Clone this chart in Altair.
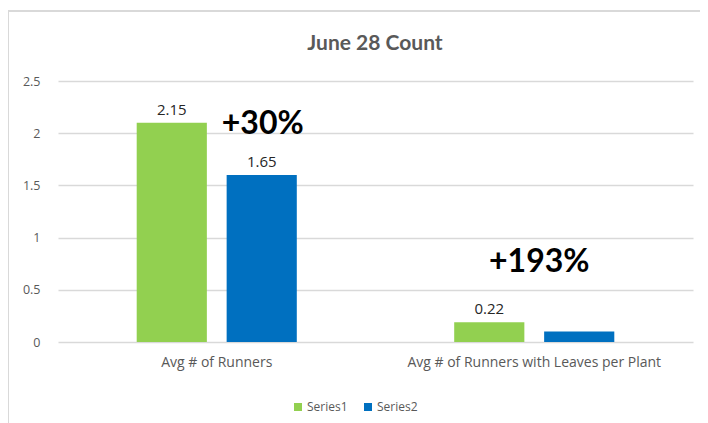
import altair as alt
import pandas as pd

categories = ["Avg # of Runners", "Avg # of Runners with Leaves per Plant"]
series = ["Series1", "Series2"]
series1_values = [2.1, 0.19]
series2_values = [1.6, 0.1]
series1_labels = ["2.15", "0.22"]
series2_labels = ["1.65", ""]
ann_texts = ["+30%", "+193%"]
ann_y = [2.09, 0.77]
colors = ["#92D050", "#0070C0"]
y_ticks = [0, 0.5, 1, 1.5, 2, 2.5]
title_text = "June 28 Count"

rows = []
for i, c in enumerate(categories):
    rows.append({"cat": c, "series": "Series1", "value": series1_values[i], "label": series1_labels[i]})
    rows.append({"cat": c, "series": "Series2", "value": series2_values[i], "label": series2_labels[i]})
df = pd.DataFrame(rows)

ann = pd.DataFrame({"cat": categories, "value": ann_y, "text": ann_texts})

FONT = "Lato"
FONT2 = "Open Sans"
GREY = "#595959"

x_enc = alt.X("cat:N", sort=categories,
              scale=alt.Scale(paddingInner=0, paddingOuter=0),
              axis=alt.Axis(labelAngle=0, labelFontSize=14, labelColor=GREY, labelFont=FONT2,
                            labelPadding=13, ticks=False, domain=False, grid=False, labelLimit=400),
              title=None)
xo_enc = alt.XOffset("series:N", sort=series,
                     scale=alt.Scale(paddingInner=0.22, paddingOuter=0.875))
y_scale = alt.Scale(domain=[0, 2.5], nice=False)

bars = alt.Chart(df).mark_bar().encode(
    x=x_enc,
    xOffset=xo_enc,
    y=alt.Y("value:Q", scale=y_scale,
            axis=alt.Axis(values=y_ticks, format="~g", labelFontSize=12.5, labelColor=GREY,
                          labelFont=FONT2, labelPadding=18, ticks=False, domain=False,
                          gridColor="#D9D9D9", gridWidth=1.3),
            title=None),
    color=alt.Color("series:N", scale=alt.Scale(domain=series, range=colors),
                    legend=alt.Legend(orient="none", legendX=234, legendY=320, direction="horizontal",
                                      title=None, symbolType="square", symbolSize=64,
                                      symbolStrokeWidth=0, labelFontSize=12, labelColor=GREY,
                                      labelFont=FONT2, columnPadding=14, labelOffset=3)),
)

labels = alt.Chart(df).transform_filter("datum.label != ''").mark_text(
    baseline="bottom", dy=-5, fontSize=15, color="#262626", font=FONT2
).encode(
    x=alt.X("cat:N", sort=categories),
    xOffset=alt.XOffset("series:N", sort=series),
    y=alt.Y("value:Q", scale=y_scale),
    text="label:N",
)

annot1 = alt.Chart(ann).transform_filter(alt.datum.text == ann_texts[0]).mark_text(
    baseline="middle", fontSize=32, fontWeight="bold", color="#000000", font=FONT, dx=46
).encode(
    x=alt.X("cat:N", sort=categories),
    y=alt.Y("value:Q", scale=y_scale),
    text="text:N",
)
annot2 = alt.Chart(ann).transform_filter(alt.datum.text == ann_texts[1]).mark_text(
    baseline="middle", fontSize=32, fontWeight="bold", color="#000000", font=FONT, dx=5
).encode(
    x=alt.X("cat:N", sort=categories),
    y=alt.Y("value:Q", scale=y_scale),
    text="text:N",
)

title = alt.Chart(pd.DataFrame({"t": [title_text]})).mark_text(
    fontSize=21, fontWeight="bold", color=GREY, font=FONT, baseline="middle"
).encode(x=alt.value(317), y=alt.value(-37), text="t:N")

border_left = alt.Chart(df).mark_rule(color="#D9D9D9", strokeWidth=2).encode(
    x=alt.value(-50), y=alt.value(-70), y2=alt.value(345)
)
border_top = alt.Chart(df).mark_rule(color="#D9D9D9", strokeWidth=2).encode(
    x=alt.value(-50), x2=alt.value(650), y=alt.value(-70)
)

chart = alt.layer(border_left, border_top, bars, labels, annot1, annot2, title).properties(
    width=635, height=261,
    autosize=alt.AutoSizeParams(type="none"),
    padding={"left": 50, "top": 73, "right": 7, "bottom": 81},
).configure_view(stroke=None)

chart.save("out.html", embed_options={"renderer": "svg", "actions": False})
